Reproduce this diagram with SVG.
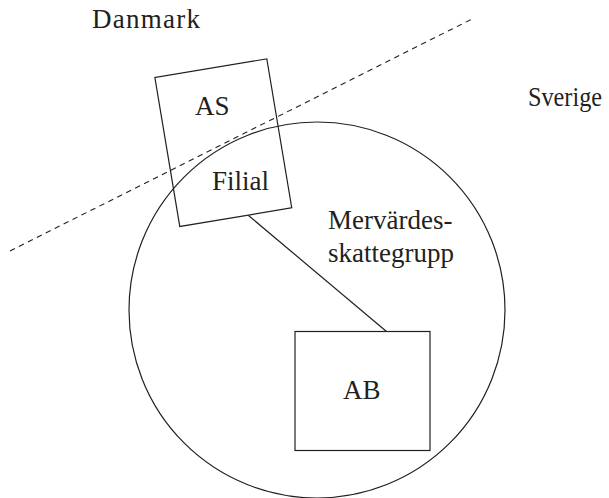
<svg xmlns="http://www.w3.org/2000/svg" width="609" height="498" viewBox="0 0 609 498">
<style>
  .ln { fill: none; stroke: #231f20; stroke-width: 1.2; }
  .dash { fill: none; stroke: #231f20; stroke-width: 1.1; stroke-dasharray: 5.5 4.5; }
  text { font-family: 'Liberation Serif', 'DejaVu Serif', 'Noto Serif', 'Times New Roman', Times, serif; font-size: 27px; fill: #231f20; }
</style>
<rect width="609" height="498" fill="#ffffff"/>
<g id="border">
  <line class="dash" x1="10" y1="251" x2="471" y2="19.5"/>
</g>
<g id="labels">
  <text x="92" y="28" textLength="108" lengthAdjust="spacing" style="font-family:'Liberation Serif',serif">Danmark</text>
  <text x="528" y="106" textLength="74" lengthAdjust="spacingAndGlyphs" style="font-family:'Liberation Serif',serif">Sverige</text>
</g>
<g id="momsgrupp">
  <circle class="ln" cx="317" cy="310" r="188"/>
  <text x="328" y="228.5" style="font-family:'Liberation Serif',serif">Mervärdes-</text>
  <text x="328" y="262" style="font-family:'Liberation Serif',serif">skattegrupp</text>
</g>
<g id="as">
  <rect class="ln" x="-56.75" y="-75.5" width="113.5" height="151" transform="translate(223.3,142.7) rotate(-9.5)"/>
  <text x="195" y="115" style="font-family:'Liberation Serif',serif">AS</text>
  <text x="212" y="189.5" style="font-family:'Liberation Serif',serif">Filial</text>
</g>
<g id="ab">
  <rect class="ln" x="295" y="331.5" width="135" height="119"/>
  <text x="343" y="399" style="font-family:'Liberation Serif',serif">AB</text>
</g>
<g id="connectors">
  <line class="ln" x1="248.5" y1="215.5" x2="386.5" y2="331.5"/>
</g>
</svg>
